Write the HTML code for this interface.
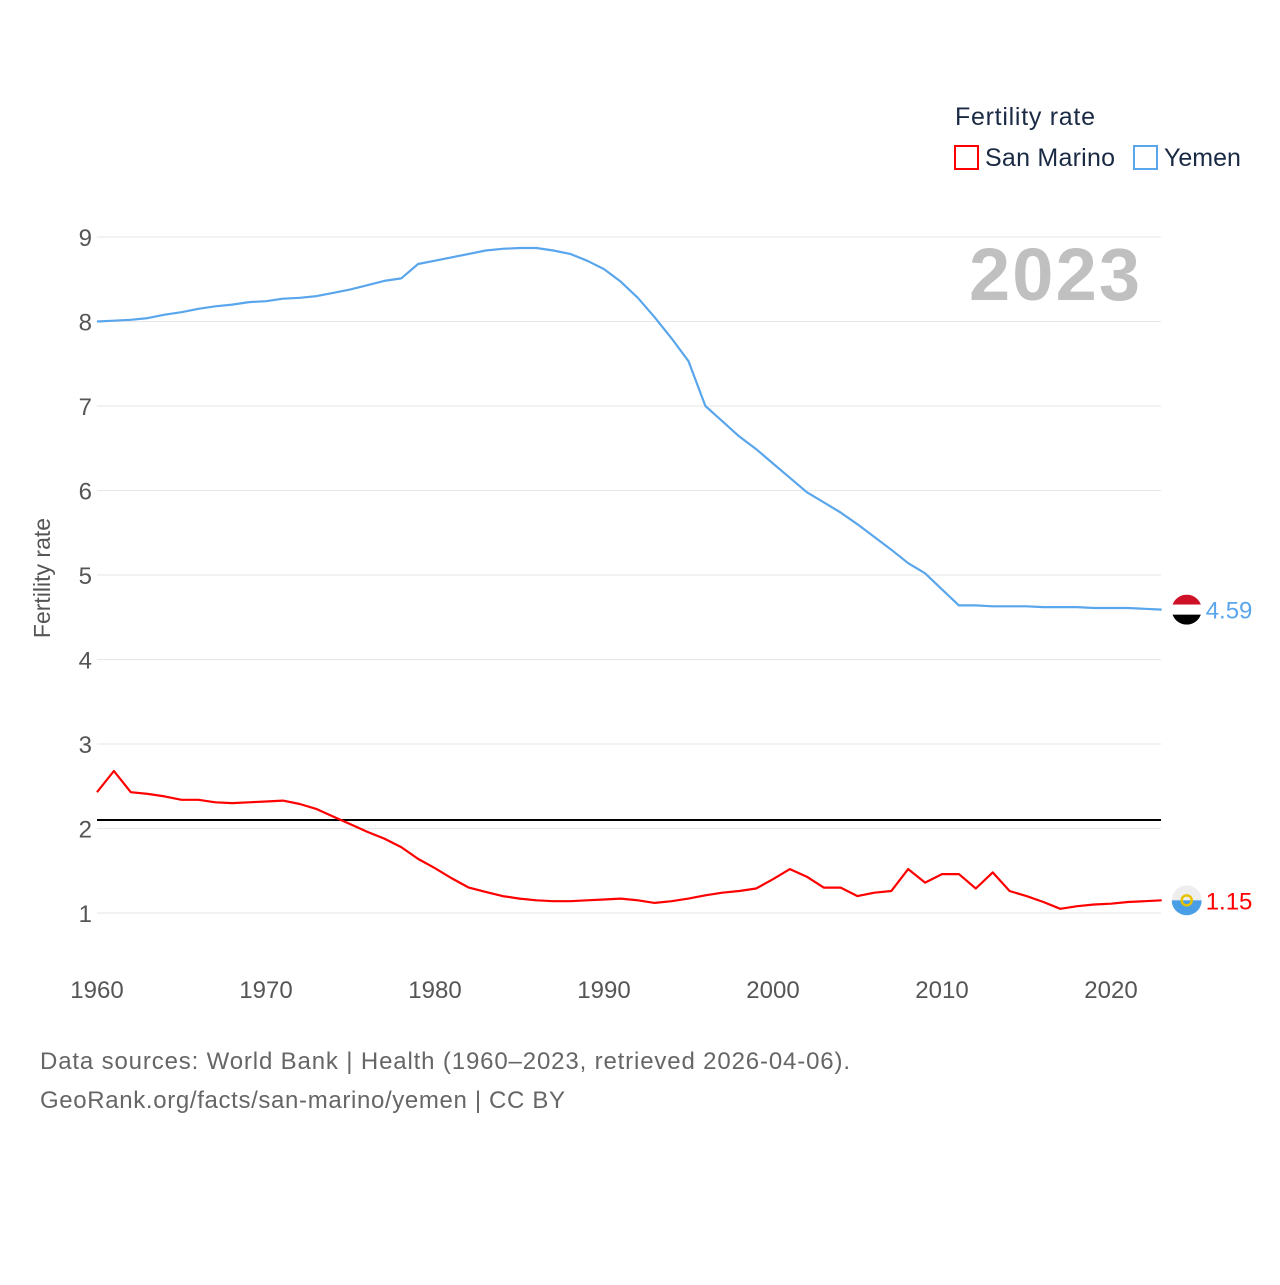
<!DOCTYPE html>
<html><head><meta charset="utf-8">
<style>
body{margin:0;background:#fff;font-family:"Liberation Sans",sans-serif;}
svg text{font-family:"Liberation Sans",sans-serif;}
</style></head>
<body>
<svg id="chart" width="1280" height="1280" xmlns="http://www.w3.org/2000/svg">
<text x="955" y="125" font-size="25" fill="#1a2a44" textLength="140">Fertility rate</text>
<rect x="955" y="146" width="23" height="23" fill="none" stroke="#ff0000" stroke-width="2"/>
<text x="985" y="166" font-size="25" fill="#1a2a44" textLength="130">San Marino</text>
<rect x="1134" y="146" width="23" height="23" fill="none" stroke="#5aa6ec" stroke-width="2"/>
<text x="1164" y="166" font-size="25" fill="#1a2a44">Yemen</text>
<text x="1140" y="300" font-size="74" font-weight="bold" fill="#c0c0c0" text-anchor="end" textLength="171">2023</text>
<text transform="translate(50,578) rotate(-90)" font-size="23" fill="#555" text-anchor="middle">Fertility rate</text>
<g id="grid"></g><g id="series"></g>
<text x="40" y="1069" font-size="24" fill="#666" textLength="810">Data sources: World Bank | Health (1960–2023, retrieved 2026-04-06).</text>
<text x="40" y="1108" font-size="24" fill="#666" textLength="525">GeoRank.org/facts/san-marino/yemen | CC BY</text>
</svg>
<script>
const years=[];for(let y=1960;y<=2023;y++)years.push(y);
const yemen=[8.0,8.01,8.02,8.04,8.08,8.11,8.15,8.18,8.20,8.23,8.24,8.27,8.28,8.30,8.34,8.38,8.43,8.48,8.51,8.68,8.72,8.76,8.80,8.84,8.86,8.87,8.87,8.84,8.80,8.72,8.62,8.47,8.28,8.05,7.80,7.53,7.00,6.82,6.64,6.49,6.32,6.15,5.98,5.86,5.74,5.60,5.45,5.30,5.14,5.02,4.83,4.64,4.64,4.63,4.63,4.63,4.62,4.62,4.62,4.61,4.61,4.61,4.60,4.59];
const sanMarino=[2.43,2.68,2.43,2.41,2.38,2.34,2.34,2.31,2.30,2.31,2.32,2.33,2.29,2.23,2.14,2.05,1.96,1.88,1.78,1.64,1.53,1.41,1.30,1.25,1.20,1.17,1.15,1.14,1.14,1.15,1.16,1.17,1.15,1.12,1.14,1.17,1.21,1.24,1.26,1.29,1.40,1.52,1.43,1.30,1.30,1.20,1.24,1.26,1.52,1.36,1.46,1.46,1.29,1.48,1.26,1.20,1.13,1.05,1.08,1.10,1.11,1.13,1.14,1.15];
const yTicks=[1,2,3,4,5,6,7,8,9];
const xTicks=[1960,1970,1980,1990,2000,2010,2020];
const replacementRate=[2.1];
const NS="http://www.w3.org/2000/svg";
const X=v=>97+(v-1960)*16.9;
const Y=v=>913-(v-1)*84.5;
const grid=document.getElementById('grid'),ser=document.getElementById('series');
function mk(tag,attrs,parent,txt){const e=document.createElementNS(NS,tag);for(const k in attrs)e.setAttribute(k,attrs[k]);if(txt!==undefined)e.textContent=txt;parent.appendChild(e);return e;}
yTicks.forEach(t=>{
 const l=mk('line',{x1:97,x2:1161,y1:Y(t),y2:Y(t),stroke:'#e6e6e6','stroke-width':1},grid);
 
 
 const tx=mk('text',{x:92,y:Y(t)+9,'font-size':24,fill:'#555','text-anchor':'end'},grid,String(t));
 
 
});
xTicks.forEach(t=>{
 const tx=mk('text',{x:X(t),y:998,'font-size':24,fill:'#555','text-anchor':'middle'},grid,String(t));
 
 
});
replacementRate.forEach(r=>{
 const l=mk('line',{x1:97,x2:1161,y1:Y(r),y2:Y(r),stroke:'#000','stroke-width':2},grid);
 
 
});
function line(data,color,name){
 const d=data.map((v,i)=>(i?'L':'M')+X(years[i]).toFixed(1)+','+Y(v).toFixed(1)).join('');
 const p=mk('path',{d,fill:'none',stroke:color,'stroke-width':2.2,'stroke-linejoin':'round'},ser);
 
 
 const last=data[data.length-1],lx=X(years[years.length-1]),ly=Y(last);
 const lab=mk('text',{x:lx+44,y:ly+9,'font-size':24,fill:color},ser,last.toFixed(2));
 
 
 return [lx+25,ly];
}
const [yx,yy]=line(yemen,'#5aa6ec','yemen');
const [sx,sy]=line(sanMarino,'#ff0000','san-marino');
const fy=mk('g',{},ser);


const cpy=mk('clipPath',{id:'cy'},fy);mk('circle',{cx:yx,cy:yy,r:15},cpy);
const gy=mk('g',{'clip-path':'url(#cy)'},fy);
mk('rect',{x:yx-15,y:yy-15,width:30,height:10,fill:'#ce1126'},gy);
mk('rect',{x:yx-15,y:yy-5,width:30,height:10,fill:'#fff'},gy);
mk('rect',{x:yx-15,y:yy+5,width:30,height:10,fill:'#000'},gy);
const fs=mk('g',{},ser);


const cp=mk('clipPath',{id:'cs'},fs);mk('circle',{cx:sx,cy:sy,r:15},cp);
const gs=mk('g',{'clip-path':'url(#cs)'},fs);
mk('rect',{x:sx-15,y:sy-15,width:30,height:15,fill:'#eee'},gs);
mk('rect',{x:sx-15,y:sy,width:30,height:15,fill:'#4a9ee6'},gs);
mk('circle',{cx:sx,cy:sy,r:5,fill:'none',stroke:'#e6c200','stroke-width':2.5},fs);
</script>
</body></html>
